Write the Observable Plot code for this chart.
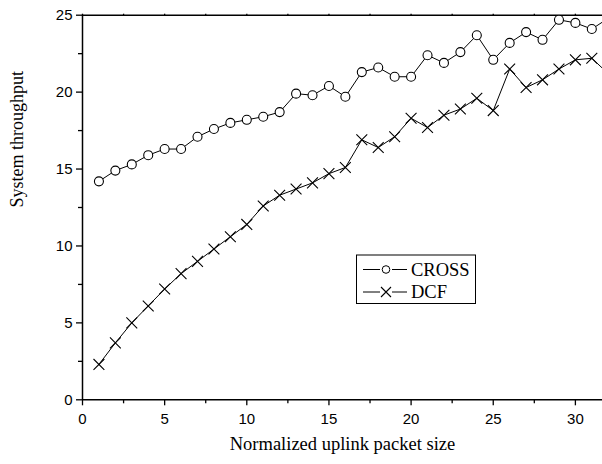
<!DOCTYPE html>
<html>
<head>
<meta charset="utf-8">
<script src="https://cdn.jsdelivr.net/npm/d3@7"></script>
<script src="https://cdn.jsdelivr.net/npm/@observablehq/plot@0.6"></script>
<style>
  html, body { margin: 0; padding: 0; background: #fff; }
  #wrap { position: relative; width: 602px; height: 464px; }
  #legend { position: absolute; left: 0; top: 0; pointer-events: none; }
</style>
</head>
<body>
<div id="wrap"></div>
<script>
const packetSize = [1, 2, 3, 4, 5, 6, 7, 8, 9, 10, 11, 12, 13, 14, 15, 16, 17, 18, 19, 20, 21, 22, 23, 24, 25, 26, 27, 28, 29, 30, 31, 32];
const crossThroughput = [14.2, 14.9, 15.3, 15.9, 16.3, 16.3, 17.1, 17.6, 18.0, 18.2, 18.4, 18.7, 19.9, 19.8, 20.4, 19.7, 21.3, 21.6, 21.0, 21.0, 22.4, 21.9, 22.6, 23.7, 22.1, 23.2, 23.9, 23.4, 24.7, 24.5, 24.1, 24.8];
const dcfThroughput = [2.3, 3.7, 5.0, 6.1, 7.2, 8.2, 9.0, 9.8, 10.6, 11.4, 12.6, 13.3, 13.7, 14.1, 14.7, 15.1, 16.9, 16.4, 17.1, 18.3, 17.7, 18.5, 18.9, 19.6, 18.8, 21.5, 20.3, 20.8, 21.5, 22.1, 22.2, 21.2];
const seriesNames = ["CROSS", "DCF"];
const xMajorTicks = [0, 5, 10, 15, 20, 25, 30];
const xMinorTicks = [2.5, 7.5, 12.5, 17.5, 22.5, 27.5];
const yMajorTicks = [0, 5, 10, 15, 20, 25];
const yMinorTicks = [2.5, 7.5, 12.5, 17.5, 22.5];
const xTitle = "Normalized uplink packet size";
const yTitle = "System throughput";

const cross = packetSize.map((x, i) => ({x, y: crossThroughput[i]}));
const dcf = packetSize.map((x, i) => ({x, y: dcfThroughput[i]}));

const sans = "'Liberation Sans', Arial, sans-serif";
const serif = "'Liberation Serif', 'Times New Roman', serif";

const chart = Plot.plot({
  width: 602,
  height: 464,
  marginLeft: 82,
  marginRight: 0,
  marginTop: 14.7,
  marginBottom: 64.7,
  style: {fontFamily: sans, fontSize: "15px", color: "#000", background: "#fff"},
  x: {domain: [0, 31.65], label: null},
  y: {domain: [0, 25], label: null},
  marks: [
    Plot.axisX(xMajorTicks, {anchor: "bottom", tickSize: 6, tickPadding: 8, strokeWidth: 1.3, fontSize: 15, label: null}),
    Plot.axisX(xMinorTicks, {anchor: "bottom", tickSize: 4, text: null, strokeWidth: 1.3, label: null}),
    Plot.axisX(xMajorTicks.concat(xMinorTicks), {anchor: "top", tickSize: 2, text: null, strokeWidth: 1.3, label: null}),
    Plot.axisY(yMajorTicks, {anchor: "left", tickSize: 6, tickPadding: 4, strokeWidth: 1.3, fontSize: 15, label: null}),
    Plot.axisY(yMinorTicks, {anchor: "left", tickSize: 4, text: null, strokeWidth: 1.3, label: null}),
    Plot.ruleY([0], {stroke: "#000", strokeWidth: 1.5}),
    Plot.ruleY([25], {stroke: "#000", strokeWidth: 1.5}),
    Plot.ruleX([0], {stroke: "#000", strokeWidth: 1.5}),
    Plot.line(cross, {x: "x", y: "y", stroke: "#000", strokeWidth: 1, clip: true}),
    Plot.line(dcf, {x: "x", y: "y", stroke: "#000", strokeWidth: 1, clip: true}),
    Plot.dot(cross, {x: "x", y: "y", r: 4.5, fill: "#fff", stroke: "#000", strokeWidth: 1.1, clip: true}),
    Plot.dot(dcf, {x: "x", y: "y", r: 5, symbol: "times", stroke: "#000", strokeWidth: 1.1, clip: true}),
    Plot.text([xTitle], {frameAnchor: "bottom", dy: 50, fontFamily: serif, fontSize: 18.5, fill: "#000"}),
    Plot.text([yTitle], {frameAnchor: "left", dx: -65, rotate: -90, fontFamily: serif, fontSize: 18, fill: "#000"})
  ]
});

const wrap = document.getElementById("wrap");
wrap.appendChild(chart);

// Legend overlay
const ns = "http://www.w3.org/2000/svg";
const leg = document.createElementNS(ns, "svg");
leg.setAttribute("id", "legend");
leg.setAttribute("width", 602);
leg.setAttribute("height", 464);
const box = {x: 356.5, y: 255, w: 119, h: 48.5};
const rect = document.createElementNS(ns, "rect");
rect.setAttribute("x", box.x); rect.setAttribute("y", box.y);
rect.setAttribute("width", box.w); rect.setAttribute("height", box.h);
rect.setAttribute("fill", "#fff"); rect.setAttribute("stroke", "#000"); rect.setAttribute("stroke-width", 1);
leg.appendChild(rect);
const rowsY = [269.5, 292];
seriesNames.forEach((name, i) => {
  const cy = rowsY[i];
  const cx = 386;
  const l1 = document.createElementNS(ns, "line");
  l1.setAttribute("x1", 363); l1.setAttribute("x2", 380); l1.setAttribute("y1", cy); l1.setAttribute("y2", cy);
  l1.setAttribute("stroke", "#000");
  const l2 = document.createElementNS(ns, "line");
  l2.setAttribute("x1", 392); l2.setAttribute("x2", 407); l2.setAttribute("y1", cy); l2.setAttribute("y2", cy);
  l2.setAttribute("stroke", "#000");
  leg.appendChild(l1); leg.appendChild(l2);
  if (i === 0) {
    const c = document.createElementNS(ns, "circle");
    c.setAttribute("cx", cx); c.setAttribute("cy", cy); c.setAttribute("r", 3.8);
    c.setAttribute("fill", "#fff"); c.setAttribute("stroke", "#000"); c.setAttribute("stroke-width", 1);
    leg.appendChild(c);
  } else {
    const p = document.createElementNS(ns, "path");
    const a = 5;
    p.setAttribute("d", `M${cx - a},${cy - a}L${cx + a},${cy + a}M${cx - a},${cy + a}L${cx + a},${cy - a}`);
    p.setAttribute("stroke", "#000"); p.setAttribute("stroke-width", 1.1); p.setAttribute("fill", "none");
    leg.appendChild(p);
  }
  const t = document.createElementNS(ns, "text");
  t.setAttribute("x", 411); t.setAttribute("y", cy);
  t.setAttribute("dy", "0.35em");
  t.setAttribute("font-family", serif);
  t.setAttribute("font-size", 18.5);
  t.setAttribute("fill", "#000");
  t.textContent = name;
  leg.appendChild(t);
});
wrap.appendChild(leg);
</script>
</body>
</html>
